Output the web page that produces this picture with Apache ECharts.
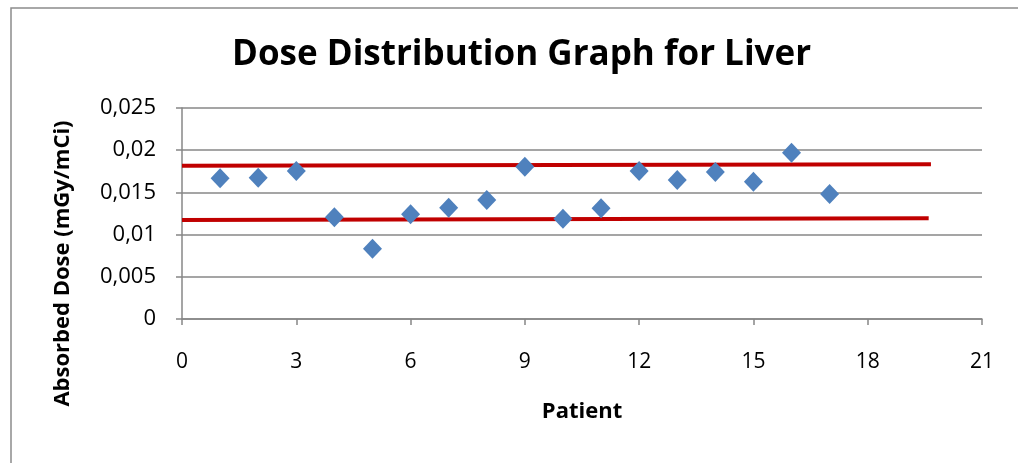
<!DOCTYPE html>
<html><head><meta charset="utf-8">
<script src="https://cdn.jsdelivr.net/npm/echarts@6/dist/echarts.min.js"></script>
<style>html,body{margin:0;padding:0;background:#fff}#c{width:1018px;height:463px}</style>
</head><body><div id="c"></div>
<script>
const patients = [1,2,3,4,5,6,7,8,9,10,11,12,13,14,15,16,17];
const absorbedDose = [0.01667,0.01674,0.01754,0.01205,0.00833,0.01240,0.01319,0.01410,0.01805,0.01188,0.01311,0.01754,0.01647,0.01742,0.01627,0.01971,0.01481];
const upperLineX = [0, 19.66];
const upperLineY = [0.01816, 0.01833];
const lowerLineX = [0, 19.6];
const lowerLineY = [0.01173, 0.01193];
const xTicks = [0,3,6,9,12,15,18,21];
const yTicks = [0,0.005,0.01,0.015,0.02,0.025];

const font = '"Open Sans", sans-serif';
const chart = echarts.init(document.getElementById('c'));
chart.setOption({
  animation: false,
  backgroundColor: '#fff',
  title: {
    text: 'Dose Distribution Graph for Liver',
    left: 227, top: 33,
    textStyle: {fontFamily: font, fontSize: 35, fontWeight: 'bold', color: '#000'}
  },
  graphic: [{type:'rect', shape:{x:11,y:8,width:1200,height:1000}, style:{fill:'none', stroke:'#8c8c8c', lineWidth:1.5}, silent:true}],
  grid: {left:182, right:36, top:108, bottom:144},
  xAxis: {
    type:'value', min:xTicks[0], max:xTicks[xTicks.length-1], interval:3,
    name:'Patient', nameLocation:'middle', nameGap:82,
    nameTextStyle:{fontFamily:font, fontSize:22, fontWeight:'bold', color:'#000'},
    axisLine:{show:true, lineStyle:{color:'#878787', width:1.5}},
    axisTick:{show:true, inside:false, length:6, lineStyle:{color:'#878787', width:1.5}},
    axisLabel:{fontFamily:font, fontSize:21, color:'#000', margin:33},
    splitLine:{show:false}
  },
  yAxis: {
    type:'value', min:yTicks[0], max:yTicks[yTicks.length-1], interval:0.005,
    name:'Absorbed Dose (mGy/mCi)', nameLocation:'middle', nameGap:108, nameRotate:90,
    nameTextStyle:{fontFamily:font, fontSize:22, fontWeight:'bold', color:'#000', padding:[0,100,0,0]},
    axisLine:{show:true, lineStyle:{color:'#878787', width:1.5}},
    axisTick:{show:true, inside:false, length:6, lineStyle:{color:'#878787', width:1.5}},
    axisLabel:{fontFamily:font, fontSize:22, color:'#000', margin:26,
      formatter: v => String(+v.toFixed(3)).replace('.', ',')},
    splitLine:{show:true, lineStyle:{color:'#878787', width:1.5}}
  },
  series: [
    {type:'line', data: upperLineX.map((x,i)=>[x, upperLineY[i]]), symbol:'none', lineStyle:{color:'#C00000', width:4}, z:2},
    {type:'line', data: lowerLineX.map((x,i)=>[x, lowerLineY[i]]), symbol:'none', lineStyle:{color:'#C00000', width:4}, z:2},
    {type:'scatter', data: patients.map((p,i)=>[p, absorbedDose[i]]), symbol:'diamond', symbolSize:[19,20],
      itemStyle:{color:'#4F81BD', opacity:1}, z:3}
  ]
});
</script></body></html>
